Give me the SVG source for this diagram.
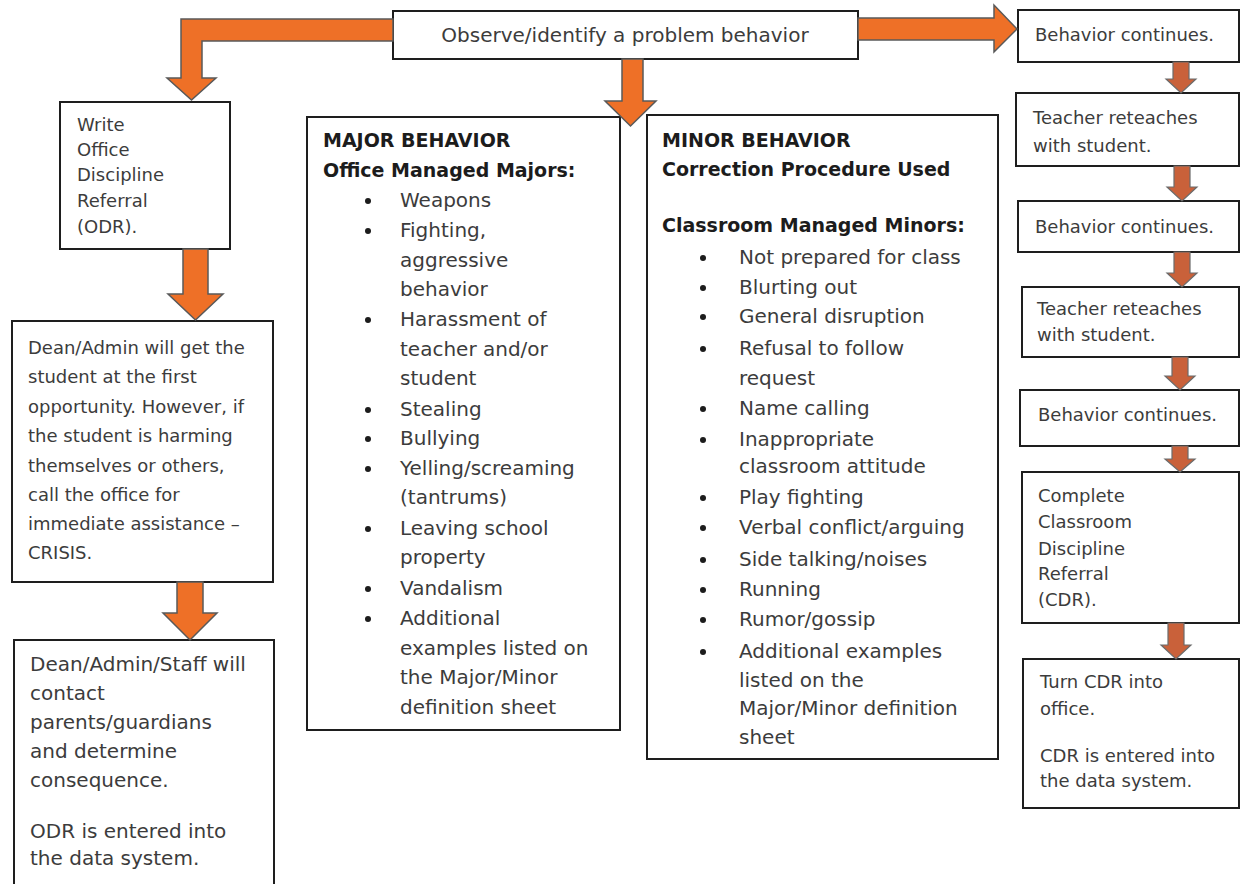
<svg xmlns="http://www.w3.org/2000/svg" width="1241" height="884" viewBox="0 0 1241 884">
<style>
  .box { fill: #ffffff; stroke: #1e1e1e; stroke-width: 2; }
  .t { font-family: "DejaVu Sans", "Liberation Sans", sans-serif; fill: #3c3c3c; }
  .t18 { font-size: 18px; }
  .t20 { font-size: 20px; }
  .h { font-family: "DejaVu Sans", "Liberation Sans", sans-serif; font-weight: bold; font-size: 19px; fill: #1c1c1c; }
  .big { fill: #EE7027; stroke: #595959; stroke-width: 1.5; stroke-linejoin: miter; }
  .small { fill: #C9613A; stroke: #6b6b6b; stroke-width: 1.2; }
  .dot { fill: #1c1c1c; }
</style>
<rect width="1241" height="884" fill="#ffffff"/>

<g id="observe">
  <rect class="box" x="393" y="11" width="465" height="48"/>
  <text class="t t20" x="625" y="42" text-anchor="middle">Observe/identify a problem behavior</text>
</g>

<g id="write-odr">
  <rect class="box" x="60" y="102" width="170" height="147"/>
  <text class="t t18" x="77" y="131">Write</text>
  <text class="t t18" x="77" y="156">Office</text>
  <text class="t t18" x="77" y="181">Discipline</text>
  <text class="t t18" x="77" y="207">Referral</text>
  <text class="t t18" x="77" y="233">(ODR).</text>
</g>

<g id="dean-admin">
  <rect class="box" x="12" y="321" width="261" height="261"/>
  <text class="t t18" x="28" y="354">Dean/Admin will get the</text>
  <text class="t t18" x="28" y="383">student at the first</text>
  <text class="t t18" x="28" y="413">opportunity. However, if</text>
  <text class="t t18" x="28" y="442">the student is harming</text>
  <text class="t t18" x="28" y="472">themselves or others,</text>
  <text class="t t18" x="28" y="501">call the office for</text>
  <text class="t t18" x="28" y="530">immediate assistance –</text>
  <text class="t t18" x="28" y="559">CRISIS.</text>
</g>

<g id="dean-staff">
  <rect class="box" x="14" y="640" width="260" height="270"/>
  <text class="t t20" x="30" y="671">Dean/Admin/Staff will</text>
  <text class="t t20" x="30" y="700">contact</text>
  <text class="t t20" x="30" y="729">parents/guardians</text>
  <text class="t t20" x="30" y="758">and determine</text>
  <text class="t t20" x="30" y="787">consequence.</text>
  <text class="t t20" x="30" y="838">ODR is entered into</text>
  <text class="t t20" x="30" y="865">the data system.</text>
</g>

<g id="major">
  <rect class="box" x="307" y="117" width="313" height="613"/>
  <text class="h" x="323" y="147">MAJOR BEHAVIOR</text>
  <text class="h" x="323" y="177">Office Managed Majors:</text>
  <g class="dot">
    <circle cx="368" cy="201" r="3"/>
    <circle cx="368" cy="231" r="3"/>
    <circle cx="368" cy="320" r="3"/>
    <circle cx="368" cy="410" r="3"/>
    <circle cx="368" cy="439" r="3"/>
    <circle cx="368" cy="469" r="3"/>
    <circle cx="368" cy="529" r="3"/>
    <circle cx="368" cy="589" r="3"/>
    <circle cx="368" cy="619" r="3"/>
  </g>
  <text class="t t20" x="400" y="207">Weapons</text>
  <text class="t t20" x="400" y="237">Fighting,</text>
  <text class="t t20" x="400" y="267">aggressive</text>
  <text class="t t20" x="400" y="296">behavior</text>
  <text class="t t20" x="400" y="326">Harassment of</text>
  <text class="t t20" x="400" y="356">teacher and/or</text>
  <text class="t t20" x="400" y="385">student</text>
  <text class="t t20" x="400" y="416">Stealing</text>
  <text class="t t20" x="400" y="445">Bullying</text>
  <text class="t t20" x="400" y="475">Yelling/screaming</text>
  <text class="t t20" x="400" y="504">(tantrums)</text>
  <text class="t t20" x="400" y="535">Leaving school</text>
  <text class="t t20" x="400" y="564">property</text>
  <text class="t t20" x="400" y="595">Vandalism</text>
  <text class="t t20" x="400" y="625">Additional</text>
  <text class="t t20" x="400" y="655">examples listed on</text>
  <text class="t t20" x="400" y="684">the Major/Minor</text>
  <text class="t t20" x="400" y="714">definition sheet</text>
</g>

<g id="minor">
  <rect class="box" x="647" y="115" width="351" height="644"/>
  <text class="h" x="662" y="147">MINOR BEHAVIOR</text>
  <text class="h" x="662" y="176">Correction Procedure Used</text>
  <text class="h" x="662" y="232">Classroom Managed Minors:</text>
  <g class="dot">
    <circle cx="703" cy="258" r="3"/>
    <circle cx="703" cy="288" r="3"/>
    <circle cx="703" cy="317" r="3"/>
    <circle cx="703" cy="349" r="3"/>
    <circle cx="703" cy="409" r="3"/>
    <circle cx="703" cy="440" r="3"/>
    <circle cx="703" cy="498" r="3"/>
    <circle cx="703" cy="528" r="3"/>
    <circle cx="703" cy="560" r="3"/>
    <circle cx="703" cy="590" r="3"/>
    <circle cx="703" cy="620" r="3"/>
    <circle cx="703" cy="652" r="3"/>
  </g>
  <text class="t t20" x="739" y="264">Not prepared for class</text>
  <text class="t t20" x="739" y="294">Blurting out</text>
  <text class="t t20" x="739" y="323">General disruption</text>
  <text class="t t20" x="739" y="355">Refusal to follow</text>
  <text class="t t20" x="739" y="385">request</text>
  <text class="t t20" x="739" y="415">Name calling</text>
  <text class="t t20" x="739" y="446">Inappropriate</text>
  <text class="t t20" x="739" y="473">classroom attitude</text>
  <text class="t t20" x="739" y="504">Play fighting</text>
  <text class="t t20" x="739" y="534">Verbal conflict/arguing</text>
  <text class="t t20" x="739" y="566">Side talking/noises</text>
  <text class="t t20" x="739" y="596">Running</text>
  <text class="t t20" x="739" y="626">Rumor/gossip</text>
  <text class="t t20" x="739" y="658">Additional examples</text>
  <text class="t t20" x="739" y="687">listed on the</text>
  <text class="t t20" x="739" y="715">Major/Minor definition</text>
  <text class="t t20" x="739" y="744">sheet</text>
</g>

<g id="r1">
  <rect class="box" x="1018" y="10" width="221" height="52"/>
  <text class="t t18" x="1035" y="41">Behavior continues.</text>
</g>
<g id="r2">
  <rect class="box" x="1016" y="93" width="223" height="73"/>
  <text class="t t18" x="1033" y="124">Teacher reteaches</text>
  <text class="t t18" x="1033" y="152">with student.</text>
</g>
<g id="r3">
  <rect class="box" x="1018" y="201" width="221" height="51"/>
  <text class="t t18" x="1035" y="233">Behavior continues.</text>
</g>
<g id="r4">
  <rect class="box" x="1022" y="287" width="217" height="70"/>
  <text class="t t18" x="1037" y="315">Teacher reteaches</text>
  <text class="t t18" x="1037" y="341">with student.</text>
</g>
<g id="r5">
  <rect class="box" x="1020" y="390" width="219" height="56"/>
  <text class="t t18" x="1038" y="421">Behavior continues.</text>
</g>
<g id="r6">
  <rect class="box" x="1022" y="472" width="217" height="151"/>
  <text class="t t18" x="1038" y="502">Complete</text>
  <text class="t t18" x="1038" y="528">Classroom</text>
  <text class="t t18" x="1038" y="555">Discipline</text>
  <text class="t t18" x="1038" y="580">Referral</text>
  <text class="t t18" x="1038" y="606">(CDR).</text>
</g>
<g id="r7">
  <rect class="box" x="1023" y="659" width="216" height="149"/>
  <text class="t t18" x="1040" y="688">Turn CDR into</text>
  <text class="t t18" x="1040" y="715">office.</text>
  <text class="t t18" x="1040" y="762">CDR is entered into</text>
  <text class="t t18" x="1040" y="787">the data system.</text>
</g>

<g id="connectors">
  <path class="big" d="M393,19 L181,19 L181,78 L167,78 L191.5,100 L216,78 L202,78 L202,41 L393,41 Z"/>
  <path class="big" d="M622,59 L643,59 L643,101 L656,101 L630.5,126 L605,101 L622,101 Z"/>
  <path class="big" d="M858,18 L994,18 L994,5 L1017,29 L994,52 L994,40 L858,40 Z"/>
  <path class="big" d="M183,249 L208,249 L208,294 L223,294 L195.5,320 L168,294 L183,294 Z"/>
  <path class="big" d="M177,582 L203,582 L203,613 L217,613 L190,640 L163,613 L177,613 Z"/>
  <path class="small" d="M1173,62 L1189,62 L1189,79 L1196,79 L1181,93 L1166,79 L1173,79 Z"/>
  <path class="small" d="M1174,166 L1190,166 L1190,187 L1197,187 L1182,201 L1167,187 L1174,187 Z"/>
  <path class="small" d="M1174,252 L1190,252 L1190,273 L1197,273 L1182,287 L1167,273 L1174,273 Z"/>
  <path class="small" d="M1172,357 L1188,357 L1188,376 L1195,376 L1180,390 L1165,376 L1172,376 Z"/>
  <path class="small" d="M1172,446 L1188,446 L1188,459 L1195,459 L1180,472 L1165,459 L1172,459 Z"/>
  <path class="small" d="M1168,623 L1184,623 L1184,645 L1191,645 L1176,659 L1161,645 L1168,645 Z"/>
</g>
</svg>
